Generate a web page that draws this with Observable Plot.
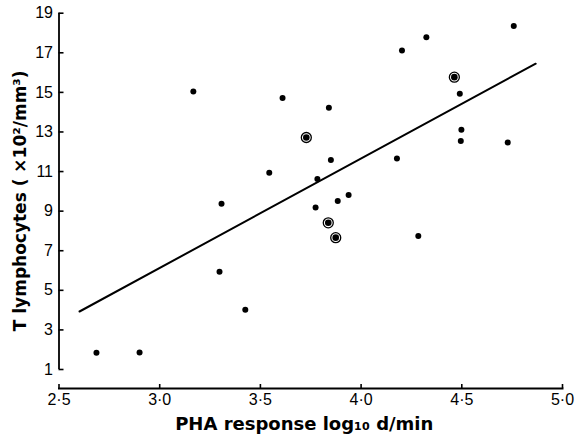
<!DOCTYPE html>
<html>
<head>
<meta charset="utf-8">
<script src="https://cdn.jsdelivr.net/npm/d3@7"></script>
<script src="https://cdn.jsdelivr.net/npm/@observablehq/plot@0.6"></script>
<style>
  html, body { margin: 0; padding: 0; background: #fff; }
</style>
</head>
<body>
<div id="chart"></div>
<script>
// PHA response (log10 d/min) for single patients
const phaX = [3.167, 3.610, 3.840, 3.850, 3.544, 3.783, 3.938, 3.884, 3.774, 3.307,
              4.758, 4.324, 4.203, 4.490, 4.498, 4.495, 4.728, 4.178,
              2.686, 2.900, 3.297, 3.425, 4.284];
// T lymphocytes (x10^2/mm^3)
const tY   = [15.05, 14.71, 14.22, 11.58, 10.94, 10.62, 9.81, 9.51, 9.19, 9.37,
              18.35, 17.78, 17.12, 14.93, 13.11, 12.54, 12.47, 11.66,
              1.84, 1.86, 5.94, 4.02, 7.74];
// circled points (coincident observations)
const circX = [3.728, 4.463, 3.837, 3.874];
const circY = [12.72, 15.77, 8.41, 7.66];
// regression line end points
const fitX = [2.602, 4.867];
const fitY = [3.93, 16.45];

const xTicks = [2.5, 3.0, 3.5, 4.0, 4.5, 5.0];
const yTicks = [1, 3, 5, 7, 9, 11, 13, 15, 17, 19];
const xTitle = "PHA response log\u2081\u2080 d/min";
const yTitle = "T lymphocytes ( \u00d710\u00b2/mm\u00b3)";

const points = phaX.map((x, i) => ({x, y: tY[i]}));
const circled = circX.map((x, i) => ({x, y: circY[i]}));
const fit = fitX.map((x, i) => ({x, y: fitY[i]}));

const chart = Plot.plot({
  width: 577,
  height: 439,
  marginLeft: 58.5,
  marginRight: 15,
  marginTop: 12.7,
  marginBottom: 51,
  x: {domain: [2.5, 5.0]},
  y: {domain: [1, 19], range: [369, 12.7]},
  style: {fontFamily: "Liberation Sans, sans-serif", fontSize: "16px", color: "#000", background: "#fff"},
  marks: [
    Plot.frame({anchor: "bottom", strokeWidth: 2}),
    Plot.ruleX([2.5], {y1: 1, y2: 19, strokeWidth: 1.8}),
    Plot.axisX({ticks: xTicks, tickSize: -4, tickPadding: 9, strokeWidth: 1.6,
      tickFormat: d => d.toFixed(1).replace(".", "\u00b7"), label: null}),
    Plot.axisY({ticks: yTicks, tickSize: -5, tickPadding: 11, strokeWidth: 1.6,
      tickFormat: d => String(d), label: null}),
    Plot.line(fit, {x: "x", y: "y", stroke: "#000", strokeWidth: 2}),
    Plot.dot(points, {x: "x", y: "y", r: 3, fill: "#000", stroke: "none"}),
    Plot.dot(circled, {x: "x", y: "y", r: 5, fill: "none", stroke: "#000", strokeWidth: 1.3}),
    Plot.dot(circled, {x: "x", y: "y", r: 3.3, fill: "#000", stroke: "none"}),
    Plot.text([xTitle], {frameAnchor: "bottom", dx: -6.5, dy: 36, lineAnchor: "middle", textAnchor: "middle",
      fontFamily: "DejaVu Sans, sans-serif", fontWeight: "bold", fontSize: 18, fill: "#000"}),
    Plot.text([yTitle], {frameAnchor: "left", dx: -38, rotate: -90, lineAnchor: "middle", textAnchor: "middle",
      fontFamily: "DejaVu Sans, sans-serif", fontWeight: "bold", fontSize: 17, fill: "#000"})
  ]
});
document.getElementById("chart").appendChild(chart);
</script>
</body>
</html>
